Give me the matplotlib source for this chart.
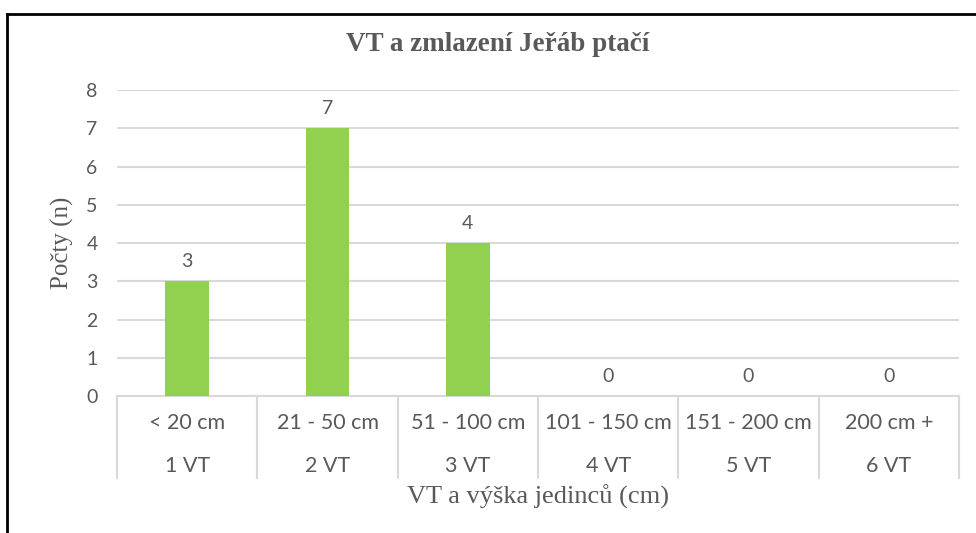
import matplotlib
matplotlib.use('Agg')
import matplotlib.pyplot as plt
from matplotlib.lines import Line2D
import numpy as np

# Data
size_classes = ['< 20 cm', '21 - 50 cm', '51 - 100 cm', '101 - 150 cm', '151 - 200 cm', '200 cm +']
vt_labels = ['1 VT', '2 VT', '3 VT', '4 VT', '5 VT', '6 VT']
counts = [3, 7, 4, 0, 0, 0]

title = 'VT a zmlazení Jeřáb ptačí'
xlabel = 'VT a výška jedinců (cm)'
ylabel = 'Počty (n)'

bar_color = '#92D050'
grid_color = '#D9D9D9'
text_color = '#595959'
sans = ['Lato', 'DejaVu Sans']
serif = ['Liberation Serif', 'DejaVu Serif']

fig = plt.figure(figsize=(9.76, 5.33), dpi=100)
ax = fig.add_axes([0.1199, 0.257, 0.8627, 0.574])

x = np.arange(len(counts))
ax.bar(x, counts, width=0.31, color=bar_color, zorder=3)
for xi, c in zip(x, counts):
    ax.annotate(str(c), (xi, c), xytext=(0, 8), textcoords='offset points',
                ha='center', va='bottom', fontsize=14, color=text_color, family=sans)

ax.set_xlim(-0.5, len(counts) - 0.5)
ax.set_ylim(0, 8)
ax.set_yticks(range(0, 9))
ax.yaxis.grid(True, color=grid_color, linewidth=1.5, zorder=0)
ax.tick_params(axis='y', length=0, pad=14, labelsize=14, labelcolor=text_color)
for lab in ax.get_yticklabels():
    lab.set_family(sans)
ax.set_xticks([])
for s in ['top', 'right', 'left']:
    ax.spines[s].set_visible(False)
ax.spines['bottom'].set_color(grid_color)
ax.spines['bottom'].set_linewidth(1.5)

# category table below the axis
trans = ax.get_xaxis_transform()
for b in np.arange(-0.5, len(counts), 1.0):
    ax.add_line(Line2D([b, b], [0, -0.268], transform=trans, color=grid_color,
                       linewidth=1.5, clip_on=False))
for xi, s, v in zip(x, size_classes, vt_labels):
    ax.text(xi, -0.088, s, transform=trans, ha='center', va='center',
            fontsize=15.5, color=text_color, family=sans)
    ax.text(xi, -0.229, v, transform=trans, ha='center', va='center',
            fontsize=15.5, color=text_color, family=sans)

ax.text(0.5, -0.33, xlabel, transform=ax.transAxes, ha='center', va='center',
        fontsize=19, color=text_color, family=serif)
fig.text(62 / 976, 1 - 243 / 533, ylabel, rotation=90, ha='center', va='center',
         fontsize=18, color=text_color, family=serif)
fig.text(498 / 976, 1 - 45 / 533, title, ha='center', va='center',
         fontsize=19.5, fontweight='bold', color=text_color, family=serif)

# outer frame (left and top edges)
fig.add_artist(Line2D([7 / 976, 7 / 976], [0, 1 - 14 / 533], transform=fig.transFigure,
                      color='black', linewidth=2))
fig.add_artist(Line2D([7 / 976, 1], [1 - 14 / 533, 1 - 14 / 533], transform=fig.transFigure,
                      color='black', linewidth=2))

fig.savefig('out.png', dpi=100)
